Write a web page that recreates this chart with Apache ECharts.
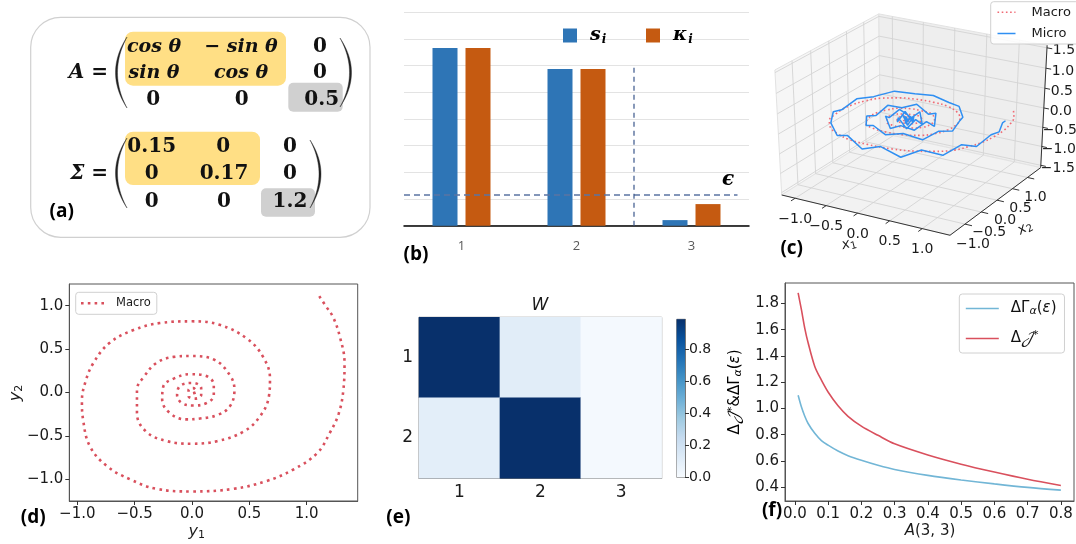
<!DOCTYPE html>
<html><head><meta charset="utf-8">
<script src="https://cdn.jsdelivr.net/npm/echarts@6/dist/echarts.min.js"></script>
<style>html,body{margin:0;padding:0;background:#fff}#c{width:1076px;height:544px}</style>
</head><body><div id="c"></div>
<script>
// ---------- (b) singular values ----------
const svdCats = ['1', '2', '3'];
const sVals = [6.66, 5.87, 0.21];
const kappaVals = [6.66, 5.87, 0.81];
const epsilonLevel = 1.15;
const epsilonEnd = 2.9;
const cutoffIndex = 2;
const cutoffTop = 5.98;

// ---------- (d) macro trajectory (y1, y2) ----------
const macroY1 = [1.11,1.17,1.23,1.29,1.33,1.32,1.28,1.20,1.09,0.88,0.65,0.36,0.00,-0.31,-0.54,-0.74,-0.89,-0.95,-0.96,-0.93,-0.86,-0.72,-0.51,-0.28,0.00,0.24,0.48,0.62,0.68,0.67,0.59,0.45,0.22,0.00,-0.22,-0.40,-0.48,-0.48,-0.42,-0.31,-0.16,-0.01,0.19,0.33,0.37,0.33,0.22,0.07,-0.05,-0.19,-0.26,-0.25,-0.16,-0.02,0.10,0.19,0.19,0.13,0.01,-0.09,-0.13,-0.10,0.01,0.08,0.08,0.03,-0.03,-0.03,0.01,0.04,0.00];
const macroY2 = [1.11,0.99,0.87,0.64,0.34,0.03,-0.24,-0.47,-0.70,-0.89,-1.02,-1.11,-1.14,-1.11,-1.00,-0.85,-0.62,-0.31,-0.10,0.12,0.34,0.57,0.72,0.80,0.82,0.78,0.62,0.41,0.16,-0.05,-0.28,-0.45,-0.56,-0.59,-0.56,-0.45,-0.24,0.03,0.18,0.34,0.41,0.42,0.38,0.20,0.03,-0.16,-0.26,-0.30,-0.31,-0.24,-0.08,0.07,0.16,0.21,0.20,0.09,-0.03,-0.12,-0.15,-0.12,-0.03,0.08,0.11,0.05,-0.03,-0.07,-0.04,0.03,0.05,0.01,-0.01];
const macroX3 = 0.0;
const dXTicks = [-1, -0.5, 0, 0.5, 1];
const dYTicks = [-1, -0.5, 0, 0.5, 1];

// ---------- (c) micro trajectory (x1, x2, x3) ----------
const microX1 = [1.02,1.12,1.22,1.30,1.32,1.25,1.15,0.98,0.75,0.50,0.22,-0.05,-0.32,-0.55,-0.75,-0.90,-0.98,-1.00,-0.92,-0.80,-0.58,-0.32,-0.05,0.22,0.45,0.62,0.70,0.71,0.62,0.48,0.25,0.00,-0.22,-0.40,-0.50,-0.50,-0.42,-0.28,-0.08,0.12,0.30,0.38,0.36,0.25,0.08,-0.10,-0.24,-0.28,-0.20,-0.05,0.10,0.20,0.18,0.08,-0.06,-0.14,-0.08,0.04,0.10,0.04,-0.04,-0.02,0.05,0.00,-0.03,0.02];
const microX2 = [1.05,0.80,0.52,0.25,-0.05,-0.35,-0.60,-0.82,-1.00,-1.12,-1.18,-1.20,-1.12,-1.00,-0.82,-0.60,-0.35,-0.08,0.22,0.50,0.72,0.85,0.90,0.86,0.72,0.50,0.25,0.00,-0.25,-0.45,-0.58,-0.62,-0.57,-0.45,-0.25,0.02,0.22,0.38,0.45,0.42,0.30,0.10,-0.10,-0.25,-0.33,-0.30,-0.18,0.00,0.16,0.24,0.20,0.08,-0.08,-0.16,-0.14,-0.02,0.10,0.10,0.02,-0.06,-0.03,0.05,0.02,-0.04,0.02,0.01];
const microX3 = [-0.25,-0.10,0.05,0.00,0.10,-0.05,0.10,-0.10,0.05,-0.15,0.05,-0.10,0.10,-0.05,0.10,-0.10,0.05,-0.05,0.10,0.05,0.15,0.10,0.12,0.05,0.10,0.00,0.08,-0.05,0.05,-0.10,0.05,-0.05,0.08,-0.05,0.05,-0.08,0.10,0.00,0.12,-0.05,0.10,-0.10,0.12,-0.05,0.05,-0.10,0.10,-0.05,0.10,-0.10,0.12,-0.10,0.10,-0.12,0.10,-0.10,0.12,-0.10,0.10,-0.10,0.10,-0.10,0.08,-0.08,0.06,-0.05];
const x1Ticks = [-1, -0.5, 0, 0.5, 1];
const x2Ticks = [-1, -0.5, 0, 0.5, 1];
const x3Ticks = [-1.5, -1, -0.5, 0, 0.5, 1, 1.5];
const x1Lim = [-1.22, 1.42];
const x2Lim = [-1.45, 1.45];
const x3Lim = [-1.5625, 1.5625];

// ---------- (e) W ----------
const wCols = ['1', '2', '3'];
const wRows = ['1', '2'];
const wValues = [[0.985, 0.11, 0.015], [0.10, 0.985, 0.015]];
const cbTicks = [0, 0.2, 0.4, 0.6, 0.8];

// ---------- (f) ----------
const a33 = [0.01,0.02,0.03,0.04,0.06,0.08,0.10,0.13,0.16,0.20,0.25,0.30,0.40,0.50,0.60,0.70,0.80];
const dGamma = [1.10,1.01,0.94,0.885,0.81,0.755,0.72,0.675,0.64,0.605,0.567,0.535,0.49,0.455,0.425,0.398,0.377];
const dJ = [1.88,1.75,1.61,1.50,1.32,1.215,1.125,1.02,0.94,0.865,0.795,0.73,0.645,0.575,0.515,0.46,0.413];
const fXTicks = [0,0.1,0.2,0.3,0.4,0.5,0.6,0.7,0.8];
const fYTicks = [0.4,0.6,0.8,1.0,1.2,1.4,1.6,1.8];

// ================= build =================
const MINUS = '\u2212';
const fmt1 = v => (v < 0 ? MINUS : '') + Math.abs(v).toFixed(1);
const BLUES = ['#f7fbff','#deebf7','#c6dbef','#9ecae1','#6baed6','#4292c6','#2171b5','#08519c','#08306b'];
const SANS = 'DejaVu Sans';

// 3D projection (elev 30, azim -60, dist 10)
const P3 = (function () {
  const e = 30 * Math.PI / 180, a = -60 * Math.PI / 180, D = 10;
  const n = [Math.cos(e) * Math.cos(a), Math.cos(e) * Math.sin(a), Math.sin(e)];
  const l = Math.hypot(n[0], n[1]);
  const u = [-n[1] / l, n[0] / l, 0];
  const v = [n[1] * u[2] - n[2] * u[1], n[2] * u[0] - n[0] * u[2], n[0] * u[1] - n[1] * u[0]];
  return function (x, y, z) {
    const p = [(x - x1Lim[0]) / (x1Lim[1] - x1Lim[0]) - 0.5,
               (y - x2Lim[0]) / (x2Lim[1] - x2Lim[0]) - 0.5,
               (z - x3Lim[0]) / (x3Lim[1] - x3Lim[0]) - 0.5];
    const d = w => w[0] * p[0] + w[1] * p[1] + w[2] * p[2];
    const w = D - d(n);
    return [d(u) / w, d(v) / w];
  };
})();
const PX0 = 913.2, SX = 1942.7, PY0 = 120.8, SY = 1427.4;
const C3 = {left: 760, top: 0, width: 316, height: 270};

const [X0, X1] = x1Lim, [Y0, Y1] = x2Lim, [Z0, Z1] = x3Lim;
const segData = [], paneData = [], txtData = [], txtStr = [];
function seg(a, b, k) { const p = P3(...a), q = P3(...b); segData.push([p[0], p[1], q[0], q[1], k]); }
function pane(c, k) { const f = []; c.forEach(pt => { const p = P3(...pt); f.push(p[0], p[1]); }); f.push(k); paneData.push(f); }
function txt(pt, dx, dy, s) { const p = P3(...pt); txtData.push([p[0], p[1], dx, dy]); txtStr.push(s); }
pane([[X0,Y0,Z0],[X0,Y1,Z0],[X0,Y1,Z1],[X0,Y0,Z1]], 0);
pane([[X0,Y1,Z0],[X1,Y1,Z0],[X1,Y1,Z1],[X0,Y1,Z1]], 1);
pane([[X0,Y0,Z0],[X1,Y0,Z0],[X1,Y1,Z0],[X0,Y1,Z0]], 2);
x2Ticks.forEach(t => seg([X0,t,Z0],[X0,t,Z1],0));
x3Ticks.forEach(t => seg([X0,Y0,t],[X0,Y1,t],0));
x1Ticks.forEach(t => seg([t,Y1,Z0],[t,Y1,Z1],0));
x3Ticks.forEach(t => seg([X0,Y1,t],[X1,Y1,t],0));
x1Ticks.forEach(t => seg([t,Y0,Z0],[t,Y1,Z0],0));
x2Ticks.forEach(t => seg([X0,t,Z0],[X1,t,Z0],0));
seg([X0,Y0,Z0],[X1,Y0,Z0],1); seg([X1,Y0,Z0],[X1,Y1,Z0],1); seg([X1,Y1,Z0],[X1,Y1,Z1],1);
x1Ticks.forEach(t => { seg([t,Y0,Z0],[t,Y0-0.04*(Y1-Y0),Z0],1); txt([t,Y0,Z0],0,21,fmt1(t)); });
x2Ticks.forEach(t => { seg([X1,t,Z0],[X1+0.04*(X1-X0),t,Z0],1); txt([X1,t,Z0],8,20,fmt1(t)); });
x3Ticks.forEach(t => { seg([X1,Y1,t],[X1+0.03*(X1-X0),Y1,t],1); txt([X1,Y1,t],17,3,fmt1(t)); });

const macro3d = macroY1.map((x, i) => P3(x, macroY2[i], macroX3));
const micro3d = microX1.map((x, i) => P3(x, microX2[i], microX3[i]));
const macro2d = macroY1.map((x, i) => [x, macroY2[i]]);

const heatData = [];
wValues.forEach((row, r) => row.forEach((v, c) => heatData.push([c, r, v])));
const cbMax = Math.max(...wValues.flat());

const chart = echarts.init(document.getElementById('c'), null, {renderer: 'canvas'});

const serifBI = {fontFamily: 'DejaVu Serif', fontStyle: 'italic', fontWeight: 'bold', color: '#000'};
const mathRich = {
  n: {fontFamily: SANS, fontSize: 15, color: '#111'},
  i: {fontFamily: SANS, fontStyle: 'italic', fontSize: 15, color: '#111'},
  s: {fontFamily: SANS, fontStyle: 'italic', fontSize: 11, color: '#111', verticalAlign: 'bottom', padding: [6, 0, 0, 0]},
  j: {fontFamily: 'DejaVu Math TeX Gyre, DejaVu Sans', fontStyle: 'italic', fontSize: 15, color: '#111'},
  p: {fontFamily: SANS, fontSize: 11, color: '#111', padding: [0, 0, 6, 0]}
};

function hiddenAxis(extra) { return Object.assign({show: false, splitLine: {show: false}}, extra); }
function tickAxis(grid, min, max, vals, extra) {
  return Object.assign({
    type: 'value', gridIndex: grid, min: min, max: max,
    axisLine: {show: true, onZero: false, lineStyle: {color: '#555', width: 1}},
    axisTick: {show: true, customValues: vals, length: 4, lineStyle: {color: '#333'}},
    axisLabel: {customValues: vals, formatter: fmt1, fontSize: 15, color: '#1a1a1a', fontFamily: SANS, margin: 6},
    splitLine: {show: false}
  }, extra || {});
}

const panelLab = (t, x, y) => ({type: 'text', x: x, y: y, style: {text: t, font: 'bold 19px "Open Sans"', fill: '#000', align: 'center', verticalAlign: 'middle'}});
const aText = (t, x, y, bi) => ({type: 'text', x: x, y: y, style: {text: t, font: (bi ? 'italic bold 19px ' : 'bold 20px ') + '"DejaVu Serif"', fill: '#111', align: 'center', verticalAlign: 'middle'}});
// crescent-shaped matrix bracket built from two quadratic curves
function paren(x, yTop, yBot, outerX, innerX) {
  const pts = [], N = 24, ym = (yTop + yBot) / 2;
  const q = (t, cx) => [(1 - t) * (1 - t) * x + 2 * (1 - t) * t * cx + t * t * x, (1 - t) * (1 - t) * yTop + 2 * (1 - t) * t * ym + t * t * yBot];
  for (let i = 0; i <= N; i++) pts.push(q(i / N, outerX));
  for (let i = N; i >= 0; i--) pts.push(q(i / N, innerX));
  return {type: 'polygon', shape: {points: pts}, style: {fill: '#222', stroke: '#222', lineWidth: 0.4}};
}
const lineLegend = {itemStyle: {opacity: 0}, lineStyle: {width: 'inherit'}};

const option = {
  animation: false,
  textStyle: {fontFamily: SANS},
  grid: [
    {left: 404, top: 12.3, width: 345, height: 213.4},
    C3,
    {left: 69.3, top: 284, width: 288.4, height: 217, show: true, borderColor: '#555', borderWidth: 1},
    {left: 419, top: 317.3, width: 242.7, height: 161, show: true, borderColor: '#777', borderWidth: 1},
    {left: 676.7, top: 319.3, width: 8.3, height: 158, show: true, borderColor: '#777', borderWidth: 1},
    {left: 785, top: 283, width: 289, height: 218, show: true, borderColor: '#555', borderWidth: 1}
  ],
  xAxis: [
    {type: 'category', gridIndex: 0, data: svdCats, axisLine: {lineStyle: {color: '#000', width: 1.5}}, axisTick: {show: false},
     axisLabel: {color: '#595959', fontSize: 13, fontFamily: 'Open Sans', margin: 14}},
    hiddenAxis({type: 'value', gridIndex: 0, min: 0, max: 3}),
    hiddenAxis({type: 'value', gridIndex: 1, min: (C3.left - PX0) / SX, max: (C3.left + C3.width - PX0) / SX}),
    tickAxis(2, -1.07, 1.445, dXTicks),
    {type: 'category', gridIndex: 3, data: wCols, axisLine: {lineStyle: {color: '#777'}},
     axisTick: {alignWithLabel: true, length: 4, lineStyle: {color: '#333'}}, axisLabel: {fontSize: 17, color: '#1a1a1a', margin: 6}},
    {type: 'category', gridIndex: 4, data: ['cb'], show: false},
    tickAxis(5, -0.0295, 0.8395, fXTicks)
  ],
  yAxis: [
    {type: 'value', gridIndex: 0, min: 0, max: 8, interval: 1, axisLine: {show: false}, axisTick: {show: false}, axisLabel: {show: false},
     splitLine: {show: true, lineStyle: {color: '#e3e3e3', width: 1}}},
    hiddenAxis({type: 'value', gridIndex: 1, min: (PY0 - C3.top - C3.height) / SY, max: (PY0 - C3.top) / SY}),
    tickAxis(2, -1.25, 1.25, dYTicks),
    {type: 'category', gridIndex: 3, data: wRows, inverse: true, axisLine: {lineStyle: {color: '#777'}},
     axisTick: {alignWithLabel: true, length: 4, lineStyle: {color: '#333'}}, axisLabel: {fontSize: 17, color: '#1a1a1a', margin: 6}},
    {type: 'value', gridIndex: 4, position: 'right', min: 0, max: cbMax, axisLine: {show: true, onZero: false, lineStyle: {color: '#777'}},
     axisTick: {show: true, customValues: cbTicks, length: 4, lineStyle: {color: '#333'}},
     axisLabel: {customValues: cbTicks, formatter: v => v.toFixed(1), fontSize: 14, color: '#1a1a1a', margin: 4}, splitLine: {show: false}},
    tickAxis(5, 0.2945, 1.9555, fYTicks)
  ],
  visualMap: [{type: 'continuous', show: false, seriesIndex: 11, min: 0, max: cbMax, inRange: {color: BLUES}}],
  legend: [
    {data: ['s_i'], left: 563, top: 26, itemWidth: 14, itemHeight: 14, icon: 'rect', padding: 0,
     formatter: () => '{m|s}{b|i}', textStyle: {rich: {m: Object.assign({fontSize: 19, padding: [0, 0, 0, 8]}, serifBI), b: Object.assign({fontSize: 12, verticalAlign: 'bottom', padding: [8, 0, 0, 1]}, serifBI)}}},
    {data: ['kappa_i'], left: 646, top: 26, itemWidth: 14, itemHeight: 14, icon: 'rect', padding: 0,
     formatter: () => '{m|κ}{b|i}', textStyle: {rich: {m: Object.assign({fontSize: 19, padding: [0, 0, 0, 8]}, serifBI), b: Object.assign({fontSize: 12, verticalAlign: 'bottom', padding: [8, 0, 0, 1]}, serifBI)}}},
    Object.assign({data: ['Macro (c)', 'Micro (c)'], left: 990.7, top: 1.7, orient: 'vertical', itemWidth: 18, itemHeight: 10, itemGap: 8.3,
     padding: [4, 8, 4, 6], backgroundColor: 'rgba(255,255,255,0.85)', borderColor: '#d0d0d0', borderWidth: 1, borderRadius: 3,
     formatter: n => '{t|' + n.split(' ')[0] + '}', textStyle: {rich: {t: {fontSize: 13, color: '#1a1a1a', fontFamily: SANS, padding: [0, 0, 0, 11]}}}}, lineLegend),
    Object.assign({data: ['Macro (d)'], left: 75.7, top: 292.3, itemWidth: 23, itemHeight: 10, padding: [5, 6, 5, 4],
     backgroundColor: 'rgba(255,255,255,0.85)', borderColor: '#d0d0d0', borderWidth: 1, borderRadius: 3,
     formatter: n => '{t|' + n.split(' ')[0] + '}', textStyle: {rich: {t: {fontSize: 11.5, color: '#1a1a1a', fontFamily: SANS, padding: [0, 0, 0, 7]}}}}, lineLegend),
    Object.assign({data: ['dGamma', 'dJ'], left: 959.3, top: 294, orient: 'vertical', itemWidth: 33, itemHeight: 12, itemGap: 13,
     padding: [7, 8, 7, 5.7], backgroundColor: 'rgba(255,255,255,0.85)', borderColor: '#d0d0d0', borderWidth: 1, borderRadius: 3,
     formatter: n => n === 'dGamma' ? '{q|}{n|ΔΓ}{s|α}{n|(}{i|ε}{n|)}' : '{q|}{n|Δ}{j|𝒥}{p|*}',
     textStyle: {rich: Object.assign({q: {width: 7}}, mathRich)}}, lineLegend)
  ],
  series: [
    {name: 's_i', type: 'bar', xAxisIndex: 0, yAxisIndex: 0, data: sVals, barWidth: 25, barGap: '32%', itemStyle: {color: '#2E75B6'}},
    {name: 'kappa_i', type: 'bar', xAxisIndex: 0, yAxisIndex: 0, data: kappaVals, barWidth: 25, barGap: '32%', itemStyle: {color: '#C55A11'}},
    {type: 'line', xAxisIndex: 1, yAxisIndex: 0, data: [[0, epsilonLevel], [epsilonEnd, epsilonLevel]], symbol: 'none',
     lineStyle: {color: '#5b74a3', width: 1.5, type: [6, 4]}, z: 3},
    {type: 'line', xAxisIndex: 1, yAxisIndex: 0, data: [[cutoffIndex, 0], [cutoffIndex, cutoffTop]], symbol: 'none',
     lineStyle: {color: '#3a568a', width: 1.2, type: [5, 4]}, z: 3},
    {type: 'custom', xAxisIndex: 2, yAxisIndex: 1, data: paneData, silent: true, z: 1,
     renderItem: (p, api) => {
       const pts = [0, 2, 4, 6].map(k => api.coord([api.value(k), api.value(k + 1)]));
       const k = api.value(8);
       return {type: 'polygon', shape: {points: pts}, style: {fill: ['#f6f6f6', '#eeeeee', '#f2f2f2'][k], stroke: '#e2e2e2', lineWidth: 1}};
     }},
    {type: 'custom', xAxisIndex: 2, yAxisIndex: 1, data: segData, silent: true, z: 2,
     renderItem: (p, api) => {
       const a = api.coord([api.value(0), api.value(1)]), b = api.coord([api.value(2), api.value(3)]);
       const k = api.value(4);
       return {type: 'line', shape: {x1: a[0], y1: a[1], x2: b[0], y2: b[1]}, style: {stroke: k === 0 ? '#d4d4d4' : '#333', lineWidth: k === 0 ? 0.9 : 1}};
     }},
    {type: 'custom', xAxisIndex: 2, yAxisIndex: 1, data: txtData, silent: true, z: 2,
     renderItem: (p, api) => {
       const a = api.coord([api.value(0), api.value(1)]);
       return {type: 'text', x: a[0] + api.value(2), y: a[1] + api.value(3),
               style: {text: txtStr[p.dataIndex], fill: '#1a1a1a', font: '14px "DejaVu Sans"', align: 'center', verticalAlign: 'middle'}};
     }},
    {name: 'Macro (c)', type: 'line', xAxisIndex: 2, yAxisIndex: 1, data: macro3d, symbol: 'none', smooth: 0.4, z: 4,
     lineStyle: {color: '#f06a74', width: 1.6, type: [1.6, 2.6]}, itemStyle: {color: '#f06a74'}},
    {name: 'Micro (c)', type: 'line', xAxisIndex: 2, yAxisIndex: 1, data: micro3d, symbol: 'none', z: 5,
     lineStyle: {color: '#2f8ff2', width: 1.5}, itemStyle: {color: '#2f8ff2'}},
    {name: 'Macro (d)', type: 'line', xAxisIndex: 3, yAxisIndex: 2, data: macro2d, symbol: 'none', smooth: 0.4,
     lineStyle: {color: '#d9505d', width: 2.6, type: [2.6, 4.2]}, itemStyle: {color: '#d9505d'}},
    {type: 'line', xAxisIndex: 3, yAxisIndex: 2, data: [], symbol: 'none'},
    {type: 'heatmap', xAxisIndex: 4, yAxisIndex: 3, data: heatData},
    {type: 'bar', xAxisIndex: 5, yAxisIndex: 4, data: [cbMax], barWidth: '100%', silent: true,
     itemStyle: {color: {type: 'linear', x: 0, y: 1, x2: 0, y2: 0, colorStops: BLUES.map((c, i) => ({offset: i / (BLUES.length - 1), color: c}))}}},
    {name: 'dGamma', type: 'line', xAxisIndex: 6, yAxisIndex: 5, data: a33.map((a, i) => [a, dGamma[i]]), symbol: 'none', smooth: 0.3,
     lineStyle: {color: '#72b6d6', width: 1.6}, itemStyle: {color: '#72b6d6'}},
    {name: 'dJ', type: 'line', xAxisIndex: 6, yAxisIndex: 5, data: a33.map((a, i) => [a, dJ[i]]), symbol: 'none', smooth: 0.3,
     lineStyle: {color: '#d9505d', width: 1.6}, itemStyle: {color: '#d9505d'}}
  ],
  graphic: [
    {type: 'rect', shape: {x: 30.7, y: 17.3, width: 339.3, height: 220, r: 30}, style: {fill: '#fff', stroke: '#d0d0d0', lineWidth: 1.2}},
    {type: 'rect', shape: {x: 125, y: 31.7, width: 161, height: 54, r: 8}, style: {fill: '#ffdf85'}},
    {type: 'rect', shape: {x: 288.3, y: 82.7, width: 54.4, height: 29, r: 5}, style: {fill: '#d0d0d0'}},
    {type: 'rect', shape: {x: 125, y: 131.7, width: 135, height: 53.3, r: 8}, style: {fill: '#ffdf85'}},
    {type: 'rect', shape: {x: 261, y: 188.3, width: 54, height: 28.4, r: 5}, style: {fill: '#d0d0d0'}},
    {type: 'text', x: 108, y: 73, style: {text: 'A =', font: 'italic bold 20px "DejaVu Serif"', fill: '#111', align: 'right', verticalAlign: 'middle'}},
    {type: 'text', x: 108, y: 173.3, style: {text: 'Σ =', font: 'italic bold 20px "DejaVu Serif"', fill: '#111', align: 'right', verticalAlign: 'middle'}},
    aText('cos θ', 154, 46.7, true), aText('− sin θ', 241, 46.7, true), aText('0', 320, 46.7),
    aText('sin θ', 154, 72.7, true), aText('cos θ', 241, 72.7, true), aText('0', 320, 72.7),
    aText('0', 153.3, 100), aText('0', 241.7, 100), aText('0.5', 321.7, 100),
    aText('0.15', 151.7, 146.7), aText('0', 223.3, 146.7), aText('0', 290, 146.7),
    aText('0', 151.7, 173.3), aText('0.17', 224, 173.3), aText('0', 290, 173.3),
    aText('0', 151.7, 201.7), aText('0', 224, 201.7), aText('1.2', 290, 201.7),
    paren(127, 37, 108, 104, 108), paren(340, 38, 107, 363, 359),
    paren(127, 138, 208, 104, 108), paren(310, 140, 208, 332, 328),
    panelLab('(a)', 61.7, 211.7), panelLab('(b)', 416, 255), panelLab('(c)', 791.7, 248.3),
    panelLab('(d)', 33.3, 518), panelLab('(e)', 398.3, 517.3), panelLab('(f)', 772, 510.7),
    {type: 'text', x: 728, y: 180, style: {text: 'ϵ', font: 'italic bold 20px "DejaVu Serif"', fill: '#000', align: 'center', verticalAlign: 'middle'}},
    {type: 'text', x: 849, y: 244, rotation: 0.25, style: {text: '{i|x}{s|1}', rich: {i: {fontFamily: SANS, fontStyle: 'italic', fontSize: 14, fill: '#1a1a1a'}, s: {fontFamily: SANS, fontSize: 10, fill: '#1a1a1a', padding: [6, 0, 0, 0]}}, align: 'center', verticalAlign: 'middle'}},
    {type: 'text', x: 1025, y: 228, rotation: 0.5, style: {text: '{i|x}{s|2}', rich: {i: {fontFamily: SANS, fontStyle: 'italic', fontSize: 14, fill: '#1a1a1a'}, s: {fontFamily: SANS, fontSize: 10, fill: '#1a1a1a', padding: [6, 0, 0, 0]}}, align: 'center', verticalAlign: 'middle'}},
    {type: 'text', x: 196.7, y: 532, style: {text: '{i|y}{s|1}', rich: {i: {fontFamily: SANS, fontStyle: 'italic', fontSize: 16, fill: '#1a1a1a'}, s: {fontFamily: SANS, fontSize: 11, fill: '#1a1a1a', padding: [7, 0, 0, 0]}}, align: 'center', verticalAlign: 'middle'}},
    {type: 'text', x: 16, y: 393, rotation: Math.PI / 2, style: {text: '{i|y}{s|2}', rich: {i: {fontFamily: SANS, fontStyle: 'italic', fontSize: 16, fill: '#1a1a1a'}, s: {fontFamily: SANS, fontSize: 11, fill: '#1a1a1a', padding: [7, 0, 0, 0]}}, align: 'center', verticalAlign: 'middle'}},
    {type: 'text', x: 540, y: 306, style: {text: 'W', font: 'italic 17px "DejaVu Sans"', fill: '#1a1a1a', align: 'center', verticalAlign: 'middle'}},
    {type: 'text', x: 930, y: 531, style: {text: '{i|A}{n|(3, 3)}', rich: {i: {fontFamily: SANS, fontStyle: 'italic', fontSize: 15, fill: '#1a1a1a'}, n: {fontFamily: SANS, fontSize: 15, fill: '#1a1a1a'}}, align: 'center', verticalAlign: 'middle'}},
    {type: 'text', x: 735, y: 392, rotation: Math.PI / 2, style: {text: '{n|Δ}{j|𝒥}{p|*}{n|&ΔΓ}{s|α}{n|(}{i|ε}{n|)}', rich: mathRich, align: 'center', verticalAlign: 'middle'}}
  ]
};
chart.setOption(option);
</script>
</body></html>
